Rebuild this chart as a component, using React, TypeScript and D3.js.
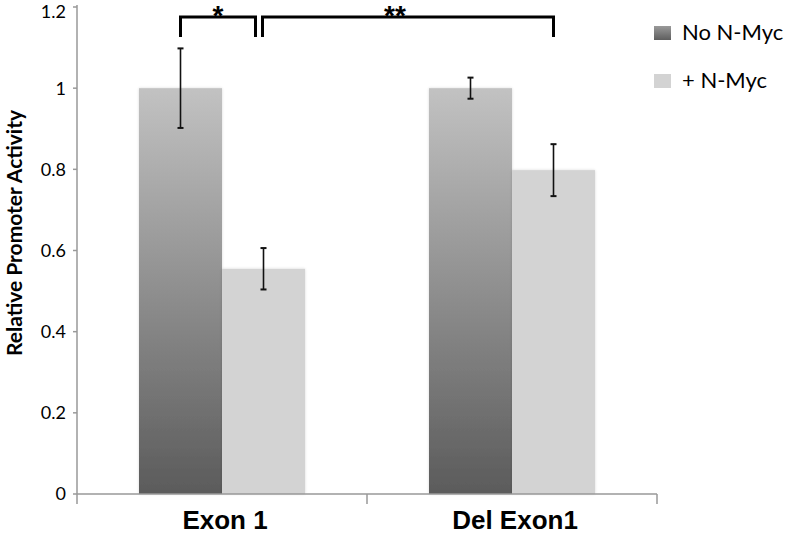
import React from 'react';
import * as d3 from 'd3';

const categories = ['Exon 1', 'Del Exon1'];
const seriesNames = ['No N-Myc', '+ N-Myc'];
const noMyc = [1.0, 1.0];
const noMycErr = [0.098, 0.026];
const plusMyc = [0.555, 0.798];
const plusMycErr = [0.051, 0.064];
const yTicks = [0, 0.2, 0.4, 0.6, 0.8, 1, 1.2];

const W = 790;
const H = 536;
const FONT = 'Lato, "Open Sans", sans-serif';
const ARIAL = '"Liberation Sans", Arial, sans-serif';

export default function App() {
  const x0 = d3.scaleBand().domain(categories).range([77, 657]);
  const y = d3.scaleLinear().domain([0, 1.2]).range([494, 7]);

  // two 83px bars centred in each category band
  const bw = 83;
  const barX = (cat: string, i: number) => x0(cat)! + (x0.bandwidth() - 2 * bw) / 2 + i * bw;
  const center = (cat: string, i: number) => barX(cat, i) + bw / 2;

  const series = [
    { name: seriesNames[0], vals: noMyc, errs: noMycErr, fill: 'url(#darkGrad)' },
    { name: seriesNames[1], vals: plusMyc, errs: plusMycErr, fill: '#d3d3d3' },
  ];

  // significance brackets
  const brackets = [
    { x1: center(categories[0], 0), x2: center(categories[0], 1) - 8, label: '*', pos: 0.5 },
    { x1: center(categories[0], 1) - 1, x2: center(categories[1], 1), label: '**', pos: 0.455 },
  ];

  return (
    <div style={{ position: 'fixed', left: 0, top: 0 }}>
      <svg width={W} height={H} style={{ display: 'block', background: '#fff' }}>
        <defs>
          <linearGradient id="darkGrad" x1="0" y1="0" x2="0" y2="1">
            <stop offset="0" stopColor="#c2c2c2" />
            <stop offset="1" stopColor="#5b5b5b" />
          </linearGradient>
          <linearGradient id="legGrad" x1="0" y1="0" x2="0" y2="1">
            <stop offset="0" stopColor="#9a9a9a" />
            <stop offset="1" stopColor="#5e5e5e" />
          </linearGradient>
          <filter id="soft" x="-10%" y="-10%" width="120%" height="120%">
            <feGaussianBlur in="SourceAlpha" stdDeviation="1.5" />
            <feComponentTransfer>
              <feFuncA type="linear" slope="0.15" />
            </feComponentTransfer>
            <feMerge>
              <feMergeNode />
              <feMergeNode in="SourceGraphic" />
            </feMerge>
          </filter>
        </defs>

        {/* bars */}
        {series.map((s, si) =>
          categories.map((c, ci) => (
            <rect
              key={s.name + c}
              x={barX(c, si)}
              y={y(s.vals[ci])}
              width={bw}
              height={y(0) - y(s.vals[ci])}
              fill={s.fill}
              filter="url(#soft)"
            />
          ))
        )}

        {/* error bars */}
        {series.map((s, si) =>
          categories.map((c, ci) => {
            const cx = center(c, si);
            const top = y(s.vals[ci] + s.errs[ci]);
            const bot = y(s.vals[ci] - s.errs[ci]);
            return (
              <g key={'e' + s.name + c} stroke="#111" strokeWidth={1.6}>
                <line x1={cx} x2={cx} y1={top} y2={bot} />
                <line x1={cx - 3} x2={cx + 3} y1={top} y2={top} strokeWidth={2} />
                <line x1={cx - 3} x2={cx + 3} y1={bot} y2={bot} strokeWidth={2} />
              </g>
            );
          })
        )}

        {/* axes */}
        <g stroke="#999" strokeWidth={1.5}>
          <line x1={77} x2={77} y1={y(1.2) - 2} y2={504} />
          <line x1={77} x2={657} y1={y(0)} y2={y(0)} />
          {yTicks.map(t => (
            <line key={t} x1={73} x2={77} y1={y(t)} y2={y(t)} />
          ))}
          {x0.domain().map(c => (
            <line key={c} x1={x0(c)! + x0.bandwidth()} x2={x0(c)! + x0.bandwidth()} y1={y(0)} y2={504} />
          ))}
        </g>
        {yTicks.map(t => (
          <text key={t} x={66} y={y(t)} dy={t === 1.2 ? '0.62em' : '0.36em'} textAnchor="end" fontFamily={FONT} fontSize={18} fill="#000">
            {d3.format('')(t)}
          </text>
        ))}
        <text
          transform={`translate(22,233) rotate(-90)`}
          textAnchor="middle"
          fontFamily={FONT}
          fontWeight="bold"
          fontSize={21}
          fill="#000"
        >
          Relative Promoter Activity
        </text>
        {categories.map(c => (
          <text key={c} x={x0(c)! + x0.bandwidth() / 2 + 3} y={529} textAnchor="middle" fontFamily={ARIAL} fontWeight="bold" fontSize={26} fill="#000">
            {c}
          </text>
        ))}

        {/* significance brackets */}
        {brackets.map(b => (
          <g key={b.label}>
            <path d={`M${b.x1},37V17H${b.x2}V37`} fill="none" stroke="#000" strokeWidth={3} />
            <text x={b.x1 + (b.x2 - b.x1) * b.pos} y={25} textAnchor="middle" fontFamily={ARIAL} fontWeight="bold" fontSize={28} fill="#000">
              {b.label}
            </text>
          </g>
        ))}

        {/* legend */}
        {seriesNames.map((n, i) => (
          <g key={n} transform={`translate(654,${26 + i * 48})`}>
            <rect width={17} height={14} fill={i === 0 ? 'url(#legGrad)' : '#d3d3d3'} />
            <text x={28} y={14} fontFamily={FONT} fontSize={22} fill="#000">
              {n}
            </text>
          </g>
        ))}
      </svg>
    </div>
  );
}
